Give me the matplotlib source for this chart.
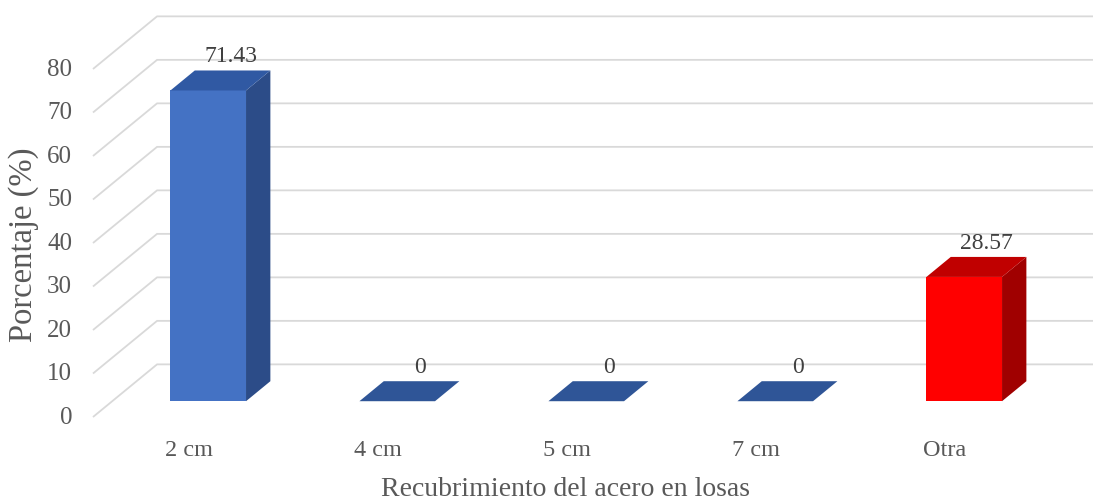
import matplotlib
matplotlib.use("Agg")
import matplotlib.pyplot as plt
from matplotlib.patches import Polygon

# ---- data ----
categories = ["2 cm", "4 cm", "5 cm", "7 cm", "Otra"]
values = [71.43, 0, 0, 0, 28.57]
value_labels = ["71.43", "0", "0", "0", "28.57"]
yticks = [0, 10, 20, 30, 40, 50, 60, 70, 80]
x_title = "Recubrimiento del acero en losas"
y_title = "Porcentaje (%)"

# ---- style / geometry (data units) ----
front_cols = ["#4472C4", "#4472C4", "#4472C4", "#4472C4", "#FF0000"]
top_cols = ["#3059A3", "#2F5597", "#2F5597", "#2F5597", "#C00000"]
side_cols = ["#2C4C88", "#2C4C88", "#2C4C88", "#2C4C88", "#A00000"]
DEPTH = (0.339, 12.1)       # offset of the back wall
BAR_FRONT, BAR_BACK = 0.30, 0.68
BAR_W = 0.40
GRID_X0 = -0.508
GRID_XEND = 5.0

plt.rcParams["font.family"] = ["Liberation Serif", "DejaVu Serif"]

fig = plt.figure(figsize=(10.93, 5.02), dpi=100)
ax = fig.add_axes([0, 0, 1, 1])
ax.set_xlim(-1.0, 4.783)
ax.set_ylim(-19.31, 96.09)
ax.axis("off")

# gridlines (side wall + back wall)
for v in yticks:
    ax.plot([GRID_X0, GRID_X0 + DEPTH[0], GRID_XEND],
            [v, v + DEPTH[1], v + DEPTH[1]],
            color="#D9D9D9", lw=1.3, zorder=1, solid_capstyle="butt")
    ax.text(-0.619, v, str(v), ha="right", va="center",
            fontsize=18, color="#595959")

fx, fy = BAR_FRONT * DEPTH[0], BAR_FRONT * DEPTH[1]
bx, by = BAR_BACK * DEPTH[0], BAR_BACK * DEPTH[1]
for i, (cat, v) in enumerate(zip(categories, values)):
    x0 = i - BAR_W / 2 + fx
    x1 = i + BAR_W / 2 + fx
    y0 = fy
    y1 = v + fy
    dx, dy = bx - fx, by - fy
    if v > 0:
        ax.add_patch(Polygon([(x0, y0), (x1, y0), (x1, y1), (x0, y1)],
                             closed=True, fc=front_cols[i], ec="none", zorder=3))
        ax.add_patch(Polygon([(x1, y0), (x1 + dx, y0 + dy), (x1 + dx, y1 + dy), (x1, y1)],
                             closed=True, fc=side_cols[i], ec="none", zorder=3))
    ax.add_patch(Polygon([(x0, y1), (x1, y1), (x1 + dx, y1 + dy), (x0 + dx, y1 + dy)],
                         closed=True, fc=top_cols[i], ec="none", zorder=4))
    ax.text(i + bx - 0.01, v + by + 3.4, value_labels[i], ha="center", va="center",
            fontsize=17, color="#404040", zorder=5)
    ax.text(i, -7.36, cat, ha="center", va="center", fontsize=17.5, color="#595959")

ax.text(1.99, -16.55, x_title, ha="center", va="center", fontsize=20, color="#595959")
ax.text(-0.873, 39.8, y_title, ha="center", va="center", rotation=90,
        fontsize=23.5, color="#595959")

fig.savefig("out.png", dpi=100, facecolor="white")
